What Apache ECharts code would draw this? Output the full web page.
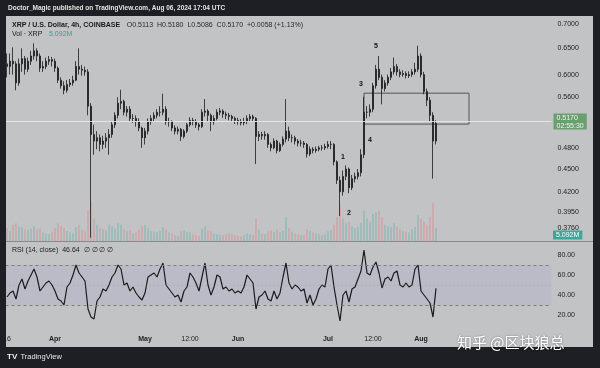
<!DOCTYPE html>
<html><head><meta charset="utf-8">
<script src="https://cdn.jsdelivr.net/npm/echarts@6/dist/echarts.min.js"></script>
<style>html,body{margin:0;padding:0;background:#1d1f24;}#c{width:600px;height:368px;}</style>
</head><body><div id="c"></div>
<script>
// ---------- data (daily readings, starting 2024-03-16) ----------
const opens = [
.620,.615,.625,.620,.585,.620,.630,.610,.625,.635,
.645,.635,.612,.615,.625,.628,.625,.612,.590,.580,
.572,.582,.585,.590,.615,.610,.608,.605,.545,.500,
.490,.495,.485,.490,.495,.500,.515,.530,.550,.553,
.535,.540,.525,.525,.520,.510,.495,.505,.520,.525,
.530,.535,.535,.540,.520,.520,.510,.505,.508,.497,
.505,.515,.522,.520,.515,.512,.535,.537,.530,.520,
.525,.535,.537,.532,.530,.528,.525,.522,.520,.518,
.520,.525,.528,.525,.497,.500,.498,.500,.485,.480,
.490,.476,.485,.493,.505,.495,.495,.490,.487,.487,
.485,.471,.478,.476,.478,.480,.480,.482,.485,.485,
.460,.435,.420,.440,.450,.425,.437,.440,.445,.470,
.535,.535,.540,.580,.610,.595,.575,.585,.595,.605,
.615,.605,.600,.602,.598,.600,.605,.610,.635,.600,
.570,.555,.530,.490];
const closes = [
.615,.625,.620,.585,.620,.630,.610,.625,.635,.645,
.635,.612,.615,.625,.628,.625,.612,.590,.580,.572,
.582,.585,.590,.615,.610,.608,.605,.545,.500,.490,
.495,.485,.490,.495,.500,.515,.530,.550,.553,.535,
.540,.525,.525,.520,.510,.495,.505,.520,.525,.530,
.535,.535,.540,.520,.520,.510,.505,.508,.497,.505,
.515,.522,.520,.515,.512,.535,.537,.530,.520,.525,
.535,.537,.532,.530,.528,.525,.522,.520,.518,.520,
.525,.528,.525,.497,.500,.498,.500,.485,.480,.490,
.476,.485,.493,.505,.495,.495,.490,.487,.487,.485,
.471,.478,.476,.478,.480,.480,.482,.485,.485,.460,
.435,.420,.440,.450,.425,.437,.440,.445,.470,.535,
.535,.540,.580,.610,.595,.575,.585,.595,.605,.615,
.605,.600,.602,.598,.600,.605,.610,.635,.600,.570,
.555,.530,.490,.517];
const lows = [
.595,.600,.600,.572,.580,.605,.600,.605,.618,.628,
.625,.605,.605,.610,.618,.615,.605,.585,.575,.565,
.568,.578,.580,.588,.600,.598,.598,.530,.365,.470,
.478,.475,.478,.480,.470,.495,.510,.525,.540,.530,
.528,.520,.518,.512,.505,.480,.485,.500,.515,.520,
.525,.528,.530,.515,.512,.505,.500,.500,.490,.494,
.502,.512,.514,.510,.506,.510,.528,.520,.505,.515,
.522,.530,.526,.524,.522,.520,.516,.515,.514,.514,
.516,.520,.520,.457,.490,.492,.492,.480,.475,.478,
.472,.474,.482,.488,.490,.488,.485,.482,.482,.480,
.466,.468,.472,.473,.475,.476,.477,.479,.478,.455,
.430,.390,.415,.435,.418,.422,.432,.436,.440,.465,
.525,.528,.535,.575,.590,.548,.570,.580,.590,.600,
.598,.595,.596,.593,.594,.596,.600,.605,.595,.565,
.545,.520,.437,.485];
const highs = [
.640,.640,.652,.625,.630,.650,.635,.632,.645,.660,
.650,.640,.625,.632,.635,.633,.630,.615,.595,.588,
.590,.592,.598,.625,.650,.618,.615,.610,.550,.515,
.505,.500,.498,.502,.508,.520,.535,.560,.573,.556,
.545,.545,.532,.530,.525,.512,.510,.525,.530,.535,
.540,.545,.566,.545,.526,.522,.514,.512,.510,.508,
.518,.527,.526,.524,.518,.540,.557,.540,.533,.530,
.540,.542,.540,.536,.534,.531,.528,.526,.524,.526,
.530,.532,.531,.527,.505,.504,.505,.502,.488,.494,
.492,.488,.497,.557,.512,.500,.498,.493,.492,.490,
.487,.482,.481,.482,.483,.484,.486,.490,.490,.487,
.462,.440,.448,.455,.452,.442,.445,.450,.478,.561,
.545,.548,.585,.618,.635,.600,.590,.600,.612,.632,
.620,.610,.608,.606,.606,.610,.622,.655,.640,.605,
.575,.560,.535,.522];
const volumes = [
90,70,110,120,100,95,80,75,85,100,
80,85,60,55,50,60,90,120,100,90,
70,60,55,95,110,80,70,200,260,150,
110,90,80,75,110,100,85,120,110,80,
70,75,55,60,80,100,110,90,70,65,
60,70,95,80,60,55,45,40,70,75,
65,60,50,45,40,85,100,75,70,55,
50,45,45,50,55,50,45,40,35,45,
55,50,45,150,80,55,50,70,75,65,
80,60,70,160,90,65,55,50,45,45,
80,70,60,55,50,45,50,70,75,110,
160,240,150,120,130,100,90,95,120,200,
150,130,180,190,200,160,110,100,95,120,
100,80,70,65,60,80,95,170,150,130,
110,160,250,90];
const rsiValues = [
38,42,44,36,50,56,46,54,60,66,
58,44,48,52,54,50,44,36,34,30,
48,52,60,70,62,58,54,26,18,16,
34,38,46,44,50,58,62,70,66,50,
52,44,48,42,38,35,42,58,60,62,
58,66,72,50,46,42,38,40,33,44,
48,62,58,52,44,58,72,50,40,48,
60,58,46,48,44,46,42,44,42,48,
60,56,52,26,38,40,44,36,34,44,
36,42,58,72,52,46,50,48,44,46,
32,40,30,36,46,50,48,66,70,48,
30,14,40,44,33,46,48,56,64,85,
62,60,68,73,62,47,56,58,54,62,
64,50,48,52,48,50,66,70,44,40,
36,32,18,46.64];
const priceTicks = [0.7, 0.65, 0.6, 0.56, 0.48, 0.45, 0.42, 0.395, 0.376];
const rsiTicks = [20, 40, 60, 80];
const rsiLevels = [70, 50, 30];
const timeLabels = {'2024-03-16':'16','2024-04-01':'Apr','2024-05-01':'May','2024-05-16':'12:00',
  '2024-06-01':'Jun','2024-07-01':'Jul','2024-07-16':'12:00','2024-08-01':'Aug'};
const waveLabels = [['1','2024-07-06',0.467],['2','2024-07-08',0.3935],['3','2024-07-12',0.583],
  ['4','2024-07-15',0.4914],['5','2024-07-17',0.6546]];
const boxZone = {from:'2024-07-13', to:'2024-08-17', top:0.567, bottom:0.516};
const lastPrice = 0.5170, countdown = '02:55:30', lastVolText = '5.092M', lastRsi = 46.64;
const headerText = 'Doctor_Magic published on TradingView.com, Aug 06, 2024 17:04 UTC';
const symbolText = 'XRP / U.S. Dollar, 4h, COINBASE';
const ohlcText = 'O0.5113  H0.5180  L0.5086  C0.5170  +0.0058 (+1.13%)';
const rsiTitle = 'RSI (14, close)', rsiNa = '\u2205 \u2205 \u2205 \u2205';
const watermark = '知乎 @区块狼总';

// ---------- build ----------
const N_SLOTS = 182;
const categories = [];
for (let i = 0; i < N_SLOTS; i++) {
  categories.push(new Date(Date.UTC(2024, 2, 16 + i)).toISOString().slice(0, 10));
}
const candles = opens.map((o, i) => [o, closes[i], lows[i], highs[i]]);
const volData = volumes.map((v, i) => ({value: v, itemStyle: {color: closes[i] >= opens[i] ? 'rgba(40,160,145,0.30)' : 'rgba(235,90,90,0.30)'}}));

const FONT = '"Liberation Sans", Arial, sans-serif';
const GL = 5.5, GR = 48.5;
const chart = echarts.init(document.getElementById('c'), null, {width: 600, height: 368});
const hiddenAxisBits = {axisLine: {show: false}, axisTick: {show: false}, splitLine: {show: false}};

chart.setOption({
  backgroundColor: '#c2c3c5',
  animation: false,
  textStyle: {fontFamily: FONT},
  grid: [
    {left: GL, right: GR, top: 16, height: 226},
    {left: GL, right: GR, top: 195, height: 47},
    {left: GL, right: GR, top: 243, height: 87}
  ],
  xAxis: [
    {type: 'category', gridIndex: 0, data: categories, show: false},
    {type: 'category', gridIndex: 1, data: categories, show: false},
    {type: 'category', gridIndex: 2, data: categories, ...hiddenAxisBits,
      axisLabel: {interval: (i, v) => v in timeLabels,
        formatter: v => { const t = timeLabels[v] || ''; return /^\d/.test(t) ? t : '{b|' + t + '}'; },
        color: '#1e1e1e', fontSize: 7, margin: 6,
        rich: {b: {fontWeight: 'bold', fontSize: 7, color: '#1e1e1e', fontFamily: FONT}}}}
  ],
  yAxis: [
    {type: 'log', gridIndex: 0, position: 'right', min: 0.3603, max: 0.7173, ...hiddenAxisBits,
      axisLabel: {customValues: priceTicks, formatter: v => Number(v).toFixed(4), color: '#222', fontSize: 7, margin: 6}},
    {type: 'value', gridIndex: 1, min: 0, max: 300, show: false, splitLine: {show: false}},
    {type: 'value', gridIndex: 2, position: 'right', min: 5, max: 92, ...hiddenAxisBits,
      axisLabel: {customValues: rsiTicks, formatter: v => Number(v).toFixed(2), color: '#222', fontSize: 7, margin: 6}}
  ],
  series: [
    {type: 'bar', xAxisIndex: 1, yAxisIndex: 1, data: volData, barWidth: 1.5, z: 1, silent: true},
    {type: 'candlestick', xAxisIndex: 0, yAxisIndex: 0, data: candles, barWidth: 2.4, z: 3,
      itemStyle: {color: '#1c1c1c', color0: '#1c1c1c', borderColor: '#1c1c1c', borderColor0: '#1c1c1c', borderWidth: 0.8},
      markLine: {symbol: ['none', 'none'], silent: true, animation: false,
        data: [{yAxis: lastPrice, lineStyle: {color: 'rgba(238,238,238,0.8)', width: 1, type: 'solid'},
          label: {show: true, position: 'end', distance: 2, formatter: lastPrice.toFixed(4) + '\n' + countdown,
            color: '#eef6ee', backgroundColor: '#6a9f6f', fontSize: 7, lineHeight: 8, padding: [0, 3]}}]},
      markArea: {silent: true, itemStyle: {color: 'rgba(0,0,0,0)', borderColor: '#555', borderWidth: 1},
        data: [[{xAxis: boxZone.from, yAxis: boxZone.top}, {xAxis: boxZone.to, yAxis: boxZone.bottom}]]},
      markPoint: {symbol: 'circle', symbolSize: 1, silent: true, itemStyle: {color: 'rgba(0,0,0,0)'},
        label: {show: true, position: 'inside', formatter: p => p.name, color: '#111', fontSize: 7, fontWeight: 'bold'},
        data: waveLabels.map(([t, d, p]) => ({name: t, coord: [d, p]}))}
    },
    {type: 'line', xAxisIndex: 2, yAxisIndex: 2, data: rsiValues, symbol: 'none', z: 3,
      lineStyle: {color: '#1c1c1c', width: 1.2},
      markArea: {silent: true, itemStyle: {color: 'rgba(140,120,210,0.12)'},
        data: [[{yAxis: rsiLevels[2]}, {yAxis: rsiLevels[0]}]]},
      markLine: {symbol: ['none', 'none'], silent: true, animation: false, label: {show: false},
        data: [
          {yAxis: rsiLevels[0], lineStyle: {color: '#7c7c7c', width: 1, type: [3, 3]}},
          {yAxis: rsiLevels[1], lineStyle: {color: 'rgba(150,150,150,0.5)', width: 1, type: [1, 3]}},
          {yAxis: rsiLevels[2], lineStyle: {color: '#7c7c7c', width: 1, type: [3, 3]}},
          {yAxis: lastRsi, lineStyle: {width: 0, opacity: 0},
            label: {show: true, position: 'end', distance: 2, formatter: lastRsi.toFixed(2), color: '#fff',
              backgroundColor: '#141414', fontSize: 7, padding: [1, 3]}}
        ]}
    }
  ],
  graphic: [
    {type: 'rect', z: 100, shape: {x: 0, y: 0, width: 600, height: 16}, style: {fill: '#1d1f24'}},
    {type: 'rect', z: 100, shape: {x: 0, y: 347, width: 600, height: 21}, style: {fill: '#1d1f24'}},
    {type: 'rect', z: 100, shape: {x: 0, y: 0, width: 6, height: 368}, style: {fill: '#1d1f24'}},
    {type: 'rect', z: 100, shape: {x: 593, y: 0, width: 7, height: 368}, style: {fill: '#1d1f24'}},
    {type: 'rect', z: 99, shape: {x: 6, y: 241, width: 587, height: 1}, style: {fill: '#8a8a8a'}},
    {type: 'text', z: 101, x: 8, y: 8, style: {text: headerText, fill: '#e4e4e4', fontSize: 6.5, fontWeight: 'bold', fontFamily: FONT, verticalAlign: 'middle'}},
    {type: 'text', z: 101, x: 12, y: 25, style: {text: '{a|' + symbolText + '}  {b|' + ohlcText + '}', verticalAlign: 'middle',
      rich: {a: {fill: '#1a1a1a', fontSize: 7, fontWeight: 'bold', fontFamily: FONT}, b: {fill: '#2a2a2a', fontSize: 7, fontFamily: FONT}}}},
    {type: 'text', z: 101, x: 12, y: 34, style: {text: '{a|Vol · XRP}  {b|' + lastVolText + '}', verticalAlign: 'middle',
      rich: {a: {fill: '#1a1a1a', fontSize: 7, fontFamily: FONT}, b: {fill: '#3a9f90', fontSize: 7, fontFamily: FONT}}}},
    {type: 'text', z: 101, x: 553, y: 235, style: {text: lastVolText, fill: '#fff', backgroundColor: '#3aa99a', padding: [1, 3], fontSize: 7, fontFamily: FONT, verticalAlign: 'middle'}},
    {type: 'text', z: 101, x: 12, y: 250, style: {text: rsiTitle + '  ' + lastRsi.toFixed(2) + '  ' + rsiNa, fill: '#1a1a1a', fontSize: 7, fontFamily: FONT, verticalAlign: 'middle'}},
    {type: 'text', z: 101, x: 7, y: 357, style: {text: '{l|TV} {t|TradingView}', verticalAlign: 'middle',
      rich: {l: {fill: '#f0f0f0', fontSize: 8, fontWeight: 'bold', fontFamily: FONT}, t: {fill: '#e8e8e8', fontSize: 7.5, fontFamily: FONT}}}},
    {type: 'text', z: 102, x: 457, y: 342, style: {text: watermark, fill: '#ffffff', fontSize: 15, fontFamily: '"Noto Sans CJK SC", sans-serif',
      verticalAlign: 'middle', textShadowColor: 'rgba(0,0,0,0.45)', textShadowBlur: 2}}
  ]
});
</script></body></html>
